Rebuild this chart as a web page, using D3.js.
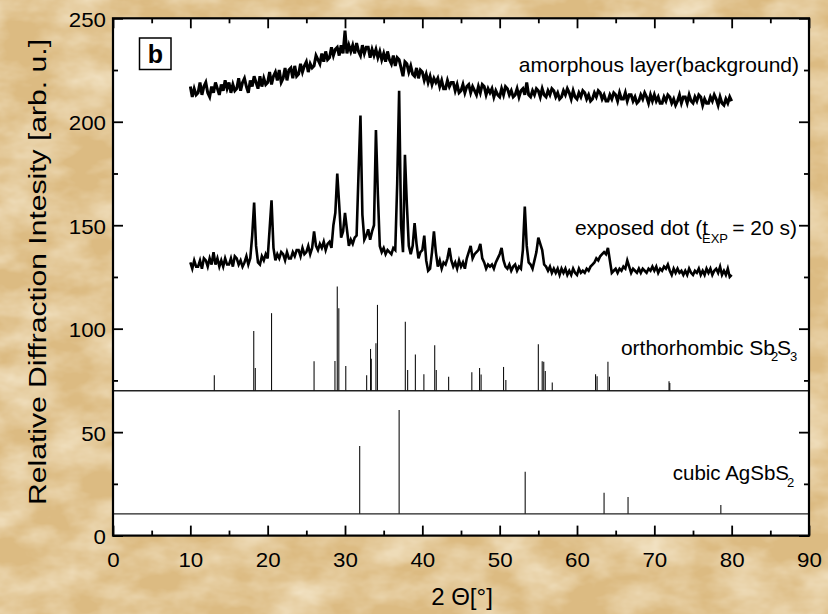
<!DOCTYPE html>
<html>
<head>
<meta charset="utf-8">
<script src="https://cdnjs.cloudflare.com/ajax/libs/d3/7.8.5/d3.min.js"></script>
<style>
  html, body { margin: 0; padding: 0; background: #e4c792; }
  svg { display: block; }
  text { font-family: "Liberation Sans", Arial, Helvetica, sans-serif; fill: #000; }
</style>
</head>
<body>
<svg id="chart" width="828" height="614"></svg>
<script>
// ---------------- data ----------------
const scanStart = 10, scanStep = 0.25;   // 2θ scan: 10° .. 80°

// amorphous layer (background) – intensity per scan step
const amorphous = [
  217,212,216,213, 214,219,213,217, 219,214,212,217, 214,219,216,213,
  218,215,220,216, 219,214,218,215, 216,221,215,219, 221,217,214,220,
  217,222,219,216, 222,217,221,218, 219,224,218,222, 224,220,225,219,
  221,226,220,225, 226,221,227,222, 223,228,224,227, 229,224,228,226,
  227,232,230,228, 233,229,234,230, 231,236,232,235, 236,232,237,233,
  244,233,237,234, 237,233,238,234, 232,237,233,236, 236,231,235,232,
  235,231,234,230, 233,229,234,230, 228,232,227,231, 230,226,222,229,
  228,224,227,223, 222,226,221,225, 224,220,223,219, 222,218,221,219,
  221,217,220,216, 216,220,217,219, 219,215,218,214, 215,218,214,217,
  218,214,217,215, 213,217,214,218, 217,213,216,214, 216,212,215,213,
  212,216,213,217, 216,213,215,212, 213,216,212,215, 216,213,219,213,
  212,215,213,216, 215,212,216,213, 212,215,213,216, 215,212,214,211,
  212,215,213,216, 214,211,215,212, 211,214,212,215, 214,211,213,210,
  211,214,212,215, 214,211,213,210, 210,213,211,214, 213,210,214,211,
  211,214,210,213, 213,210,212,209, 210,213,211,214, 212,209,213,210,
  213,210,212,209, 209,212,210,213, 212,209,211,208, 210,213,209,212,
  212,209,213,210, 209,212,210,213, 212,208,211,209, 209,212,210,213,
  211,208,212,209, 208,211,209,212, 210
];

// exposed dot (t_EXP = 20 s) – intensity per scan step
const exposed = [
  132,129,133,130, 130,133,129,134, 133,130,134,131, 137,131,134,130,
  133,130,134,131, 131,134,130,135, 134,131,133,130, 132,135,131,134,
  145,161,140,132, 131,135,133,136, 134,148,162,139, 133,136,134,137,
  136,133,137,134, 134,137,135,138, 138,135,139,136, 137,140,136,139,
  147,140,138,141, 139,142,138,141, 142,139,150,156, 175,160,144,147,
  156,148,140,143, 141,144,145,175, 203,155,143,145, 148,143,147,150,
  196,165,140,137, 139,136,138,137, 136,139,138,170, 215,150,137,184,
  160,140,136,140, 151,141,134,137, 138,145,133,128, 129,137,147,137,
  130,133,129,132, 131,134,139,133, 130,132,129,133, 130,132,129,134,
  137,140,134,136, 137,138,141,134, 132,129,131,130, 131,129,132,134,
  136,139,133,130, 129,131,128,130, 131,128,130,129, 138,159,140,132,
  131,129,133,137, 144,141,138,131, 130,128,130,127, 129,127,129,126,
  129,127,129,126, 128,126,129,127, 126,129,127,128, 127,129,128,130,
  131,132,134,133, 135,136,137,136, 139,133,127,128, 129,127,129,128,
  130,129,133,130, 127,129,128,127, 129,127,129,128, 127,129,128,130,
  128,130,127,129, 128,130,129,131, 128,126,129,127, 129,127,128,126,
  128,126,129,127, 126,128,127,129, 126,128,126,129, 127,129,126,128,
  129,127,130,126, 128,126,129,125, 126
];

// reference patterns (stick positions in 2θ and their top intensity)
const orthoBase = 70;
const orthoPos = [13.1,18.2,18.4,20.5,26.0,28.7,29.0,29.2,30.1,32.8,33.3,33.4,34.0,34.2,37.8,38.1,39.1,40.2,41.6,41.8,43.4,46.4,47.4,47.6,50.5,50.8,55.0,55.5,55.7,55.9,56.8,62.4,62.6,64.0,64.2,71.9,72.0];
const orthoInt = [77.5,98.9,81,107.5,84.3,84.4,120.4,109.9,82,77.5,90.2,85.5,92.9,111.5,103.4,80,87.5,78,92,80,76.8,79,81,77.8,81.5,75.2,92.5,84.3,84,79.6,74,78,77,84,76.8,74.6,73.8];

const cubicBase = 10.5;
const cubicPos = [31.9, 37.0, 53.3, 63.5, 66.6, 78.6];
const cubicInt = [43.3, 60.7, 30.8, 20.7, 18.7, 14.8];

const xTicks = [0,10,20,30,40,50,60,70,80,90];
const xMinor = [5,15,25,35,45,55,65,75,85];
const yTicks = [0,50,100,150,200,250];
const yMinor = [25,75,125,175,225];

// ---------------- drawing ----------------
const svg = d3.select("#chart");
const W = 828, H = 614;
const L = 113, R = 809, T = 18.3, B = 535.6;

const x = d3.scaleLinear().domain([0, 90]).range([L, R]);
const y = d3.scaleLinear().domain([0, 250]).range([B, T]);

// parchment background
const defs = svg.append("defs");
const f = defs.append("filter").attr("id", "paper")
  .attr("x", 0).attr("y", 0).attr("width", "100%").attr("height", "100%");
f.append("feTurbulence").attr("type", "fractalNoise")
  .attr("baseFrequency", "0.018 0.03").attr("numOctaves", 4).attr("seed", 11);
f.append("feColorMatrix").attr("type", "matrix")
  .attr("values", "0 0 0 0 0.95  0 0 0 0 0.87  0 0 0 0 0.70  0 0 0 1.3 -0.42");

svg.append("rect").attr("width", W).attr("height", H).attr("fill", "#dcbb82");
svg.append("rect").attr("width", W).attr("height", H).attr("filter", "url(#paper)");

// plot area
svg.append("rect").attr("x", L).attr("y", T).attr("width", R - L).attr("height", B - T)
  .attr("fill", "#fff");

// baselines of reference patterns
svg.append("line").attr("x1", L).attr("x2", R).attr("y1", y(orthoBase)).attr("y2", y(orthoBase))
  .attr("stroke", "#222").attr("stroke-width", 1.4);
svg.append("line").attr("x1", L).attr("x2", R).attr("y1", y(cubicBase)).attr("y2", y(cubicBase))
  .attr("stroke", "#222").attr("stroke-width", 1.4);

// sticks
svg.append("g").selectAll("line").data(orthoPos).join("line")
  .attr("x1", d => x(d)).attr("x2", d => x(d))
  .attr("y1", y(orthoBase)).attr("y2", (d, i) => y(orthoInt[i]))
  .attr("stroke", "#111").attr("stroke-width", 1.1);
svg.append("g").selectAll("line").data(cubicPos).join("line")
  .attr("x1", d => x(d)).attr("x2", d => x(d))
  .attr("y1", y(cubicBase)).attr("y2", (d, i) => y(cubicInt[i]))
  .attr("stroke", "#111").attr("stroke-width", 1.1);

// scans
const scanLine = d3.line()
  .x((d, i) => x(scanStart + i * scanStep))
  .y(d => y(d));
svg.append("path").datum(amorphous).attr("d", scanLine)
  .attr("fill", "none").attr("stroke", "#000").attr("stroke-width", 3).attr("stroke-linejoin", "miter");
svg.append("path").datum(exposed).attr("d", scanLine)
  .attr("fill", "none").attr("stroke", "#000").attr("stroke-width", 2.6).attr("stroke-linejoin", "miter");

// axes (ticks pointing inward)
function styleAxis(g) {
  g.select(".domain").remove();
  g.selectAll(".tick line").attr("stroke", "#000").attr("stroke-width", 1.8);
  g.selectAll(".tick text").attr("font-size", 21)
    .attr("textLength", function (d) { return String(d).length * 12.4; })
    .attr("lengthAdjust", "spacingAndGlyphs");
}
svg.append("g").attr("transform", `translate(0,${B})`)
  .call(d3.axisBottom(x).tickValues(xTicks).tickSizeInner(-10).tickSizeOuter(0).tickPadding(16))
  .call(styleAxis);
svg.append("g").attr("transform", `translate(0,${B})`)
  .call(d3.axisBottom(x).tickValues(xMinor).tickSize(-5).tickFormat(""))
  .call(styleAxis);
svg.append("g").attr("transform", `translate(0,${T})`)
  .call(d3.axisTop(x).tickValues(xTicks).tickSize(-10).tickFormat(""))
  .call(styleAxis);
svg.append("g").attr("transform", `translate(0,${T})`)
  .call(d3.axisTop(x).tickValues(xMinor).tickSize(-5).tickFormat(""))
  .call(styleAxis);

const yAx = svg.append("g").attr("transform", `translate(${L},0)`)
  .call(d3.axisLeft(y).tickValues(yTicks).tickSizeInner(-10).tickSizeOuter(0).tickPadding(7))
  .call(styleAxis);
yAx.selectAll(".tick text").attr("dy", "0.38em");
svg.append("g").attr("transform", `translate(${L},0)`)
  .call(d3.axisLeft(y).tickValues(yMinor).tickSize(-5).tickFormat(""))
  .call(styleAxis);
svg.append("g").attr("transform", `translate(${R},0)`)
  .call(d3.axisRight(y).tickValues(yTicks).tickSize(-10).tickFormat(""))
  .call(styleAxis);
svg.append("g").attr("transform", `translate(${R},0)`)
  .call(d3.axisRight(y).tickValues(yMinor).tickSize(-5).tickFormat(""))
  .call(styleAxis);

// frame
svg.append("rect").attr("x", L).attr("y", T).attr("width", R - L).attr("height", B - T)
  .attr("fill", "none").attr("stroke", "#000").attr("stroke-width", 2.2);

// panel label
svg.append("rect").attr("x", 139.5).attr("y", 38).attr("width", 31.5).attr("height", 31.5)
  .attr("fill", "#fff").attr("stroke", "#000").attr("stroke-width", 1.5);
svg.append("text").attr("x", 155.3).attr("y", 63).attr("text-anchor", "middle")
  .attr("font-size", 25).attr("font-weight", "bold").text("b");

// curve labels
svg.append("text").attr("x", 799).attr("y", 72).attr("text-anchor", "end")
  .attr("font-size", 21).text("amorphous layer(background)");

svg.append("text").attr("x", 708).attr("y", 235).attr("text-anchor", "end")
  .attr("font-size", 21).text("exposed dot (t");
svg.append("text").attr("x", 702).attr("y", 243).attr("font-size", 13).text("EXP");
svg.append("text").attr("x", 797).attr("y", 235).attr("text-anchor", "end")
  .attr("font-size", 21).text("= 20 s)");

svg.append("text").attr("x", 775).attr("y", 354.5).attr("text-anchor", "end")
  .attr("font-size", 21).text("orthorhombic Sb");
svg.append("text").attr("x", 771).attr("y", 361).attr("font-size", 13).text("2");
svg.append("text").attr("x", 777).attr("y", 354.5).attr("font-size", 21).text("S");
svg.append("text").attr("x", 790).attr("y", 361).attr("font-size", 13).text("3");

svg.append("text").attr("x", 789).attr("y", 479.5).attr("text-anchor", "end")
  .attr("font-size", 20.5).text("cubic AgSbS");
svg.append("text").attr("x", 787).attr("y", 487).attr("font-size", 13).text("2");

// axis titles
svg.append("text").attr("x", 462).attr("y", 605).attr("text-anchor", "middle")
  .attr("font-size", 24).text("2 Θ[°]");
svg.append("text").attr("transform", "translate(46,272) rotate(-90)")
  .attr("text-anchor", "middle").attr("font-size", 23)
  .attr("textLength", 466).attr("lengthAdjust", "spacingAndGlyphs")
  .text("Relative Diffraction Intesity [arb. u.]");
</script>
</body>
</html>
